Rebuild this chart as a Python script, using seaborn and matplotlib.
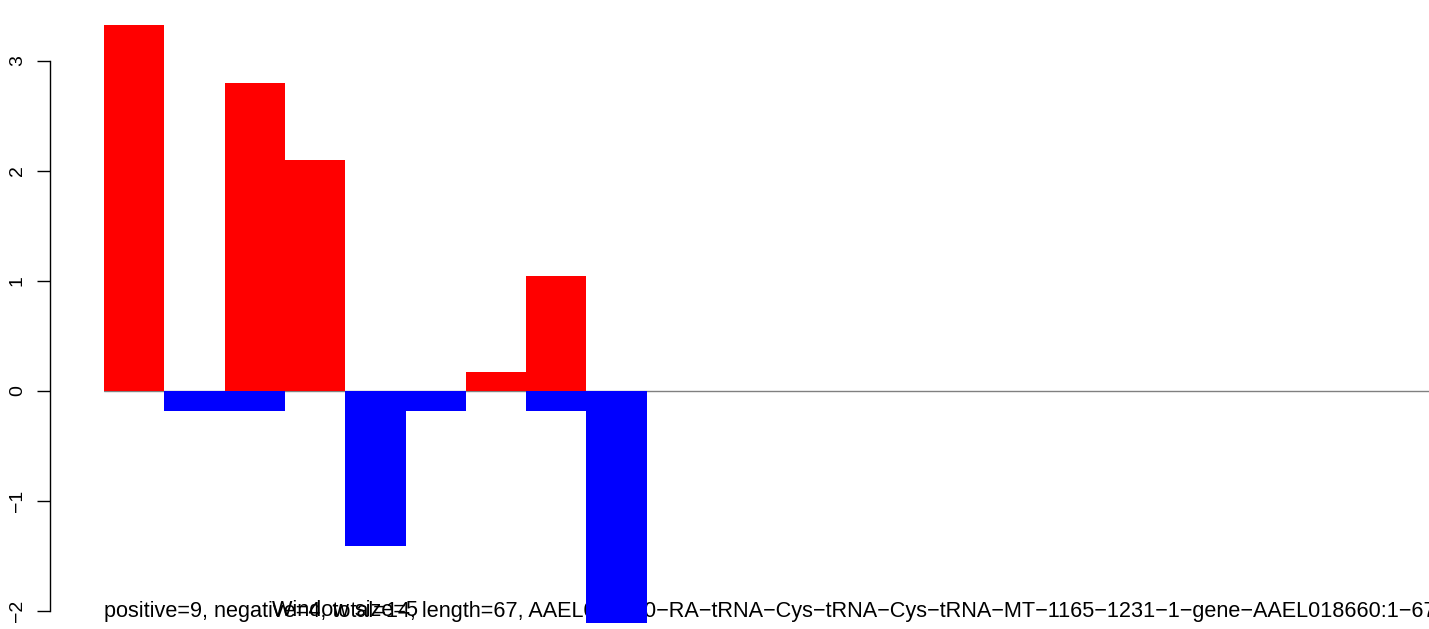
import matplotlib
matplotlib.use("Agg")
import matplotlib.pyplot as plt
import seaborn as sns
import pandas as pd

sns.set_style("white")
plt.rcParams['font.family'] = ['Liberation Sans', 'DejaVu Sans']

# data
positions = [0.5, 1.5, 2.5, 3.5, 4.5, 5.5, 6.5, 7.5, 8.5]
pos_values = [3.33, 0.0, 2.80, 2.10, 0.0, 0.0, 0.17, 1.05, 0.0]
neg_values = [0.0, -0.18, -0.18, 0.0, -1.41, -0.18, 0.0, -0.18, -2.11]
yticks = [-2, -1, 0, 1, 2, 3]
info_text = ("positive=9, negative=4, total=14, length=67, "
             "AAEL018660\u2212RA\u2212tRNA\u2212Cys\u2212tRNA\u2212Cys\u2212tRNA\u2212MT\u2212"
             "1165\u22121231\u22121\u2212gene\u2212AAEL018660:1\u221267")
window_text = "Window size=5"

W, H, DPI = 1429, 629, 100
fig = plt.figure(figsize=(W / DPI, H / DPI), dpi=DPI)
ax = fig.add_axes([104 / W, 0, 1325 / W, 1])

# texts first, underneath the bars
ax.text(104 / W, 1 - 611 / H, info_text, ha="left", va="center",
        fontsize=15.6, color="black", transform=fig.transFigure,
        zorder=0.1, clip_on=False)
ax.text(272 / W, 1 - 611 / H, window_text, ha="left", va="center",
        fontsize=15.6, color="black", transform=fig.transFigure,
        zorder=0.1, clip_on=False)

df_pos = pd.DataFrame({"x": positions, "y": pos_values})
df_neg = pd.DataFrame({"x": positions, "y": neg_values})
sns.barplot(data=df_pos, x="x", y="y", native_scale=True, width=1.0,
            color="#FF0000", saturation=1, linewidth=0, ax=ax, errorbar=None,
            zorder=2)
sns.barplot(data=df_neg, x="x", y="y", native_scale=True, width=1.0,
            color="#0000FF", saturation=1, linewidth=0, ax=ax, errorbar=None,
            zorder=2)

ax.axhline(0, color="#808080", lw=1.0, zorder=0.5)

ax.set_xlim(0, 1325 / 60.3)
ppu = 110.0
ax.set_ylim((391 - 629) / ppu, 391 / ppu)

for s in ["top", "right", "bottom"]:
    ax.spines[s].set_visible(False)
ax.spines["left"].set_position(("outward", 54 * 72 / DPI))
ax.spines["left"].set_bounds(-2, 3)
ax.spines["left"].set_color("black")
ax.spines["left"].set_linewidth(1.0)
ax.set_xticks([])
ax.set_yticks(yticks)
ax.set_yticklabels([str(t).replace("-", "\u2212") for t in yticks],
                   rotation=90, va="center", fontsize=14)
ax.tick_params(axis="y", left=True, length=13 * 72 / DPI, width=1.0,
               pad=8, colors="black")
ax.set_xlabel("")
ax.set_ylabel("")

fig.savefig("out.png", dpi=DPI)
